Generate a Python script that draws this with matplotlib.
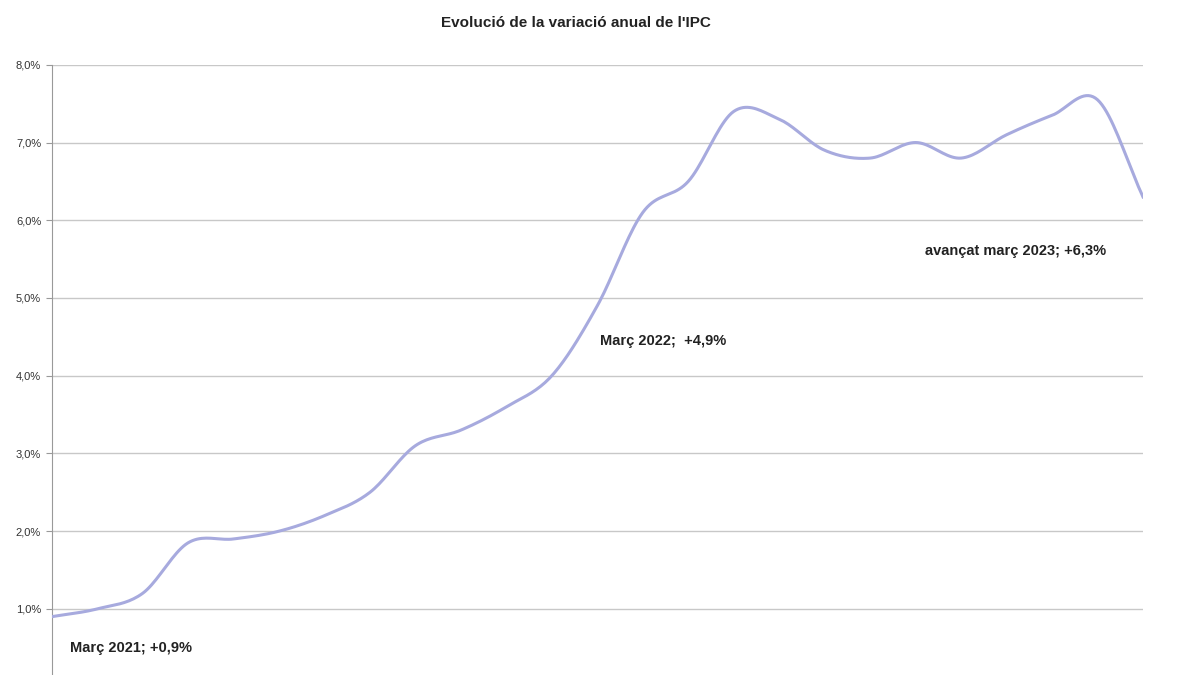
import numpy as np
import matplotlib.pyplot as plt

plt.rcParams['font.family'] = ['Liberation Sans', 'DejaVu Sans']

# monthly annual CPI change, March 2021 .. March 2023
months = list(range(25))
ipc = [0.9, 1.0, 1.2, 1.85, 1.9, 2.0, 2.2, 2.5, 3.1, 3.3, 3.6, 4.0, 4.9,
       6.1, 6.5, 7.4, 7.3, 6.9, 6.8, 7.0, 6.8, 7.1, 7.35, 7.55, 6.3]
yticks = [1, 2, 3, 4, 5, 6, 7, 8]
notes = [(0, 0.9, "Març 2021; +0,9%"), (12, 4.9, "Març 2022;  +4,9%"),
         (24, 6.3, "avançat març 2023; +6,3%")]


def smooth(x, y, n=20):
    # catmull-rom curve through the points, just for the drawing
    x = np.asarray(x, float)
    y = np.asarray(y, float)
    px = np.concatenate([[2 * x[0] - x[1]], x, [2 * x[-1] - x[-2]]])
    py = np.concatenate([[2 * y[0] - y[1]], y, [2 * y[-1] - y[-2]]])
    xs, ys = [], []
    t = np.linspace(0, 1, n, endpoint=False)
    for i in range(1, len(px) - 2):
        for p, out in ((px, xs), (py, ys)):
            p0, p1, p2, p3 = p[i - 1], p[i], p[i + 1], p[i + 2]
            out.extend(0.5 * (2 * p1 + (-p0 + p2) * t
                              + (2 * p0 - 5 * p1 + 4 * p2 - p3) * t ** 2
                              + (-p0 + 3 * p1 - 3 * p2 + p3) * t ** 3))
    xs.append(x[-1])
    ys.append(y[-1])
    return xs, ys


fig = plt.figure(figsize=(12, 6.75), dpi=100)
ax = fig.add_axes([0.043, 0.0, 0.9095, 0.904])
sx, sy = smooth(months, ipc)
ax.plot(sx, sy, color='#a7aade', lw=2.2, zorder=3)

ax.set_xlim(0, 24)
ax.set_ylim(0.15, 8.0)
ax.set_yticks(yticks)
ax.set_yticklabels([f"{v},0%" for v in yticks], fontsize=8, color='#333333')
ax.set_xticks([])
ax.grid(axis='y', color='#c8c8c8', lw=1)
for s in ['top', 'right', 'bottom']:
    ax.spines[s].set_visible(False)
ax.spines['left'].set_color('#999999')
ax.tick_params(axis='y', length=4, color='#999999')

offsets = {0: (0.4, -0.45), 12: (0.05, -0.5), 24: (-4.8, -0.75)}
for x, y, txt in notes:
    dx, dy = offsets[x]
    ax.text(x + dx, y + dy, txt, fontsize=10.5,
            fontweight='bold', color='#222222')

fig.text(0.48, 0.96, "Evolució de la variació anual de l'IPC", ha='center',
         fontsize=11, fontweight='bold', color='#222222')
fig.savefig('out.png')
